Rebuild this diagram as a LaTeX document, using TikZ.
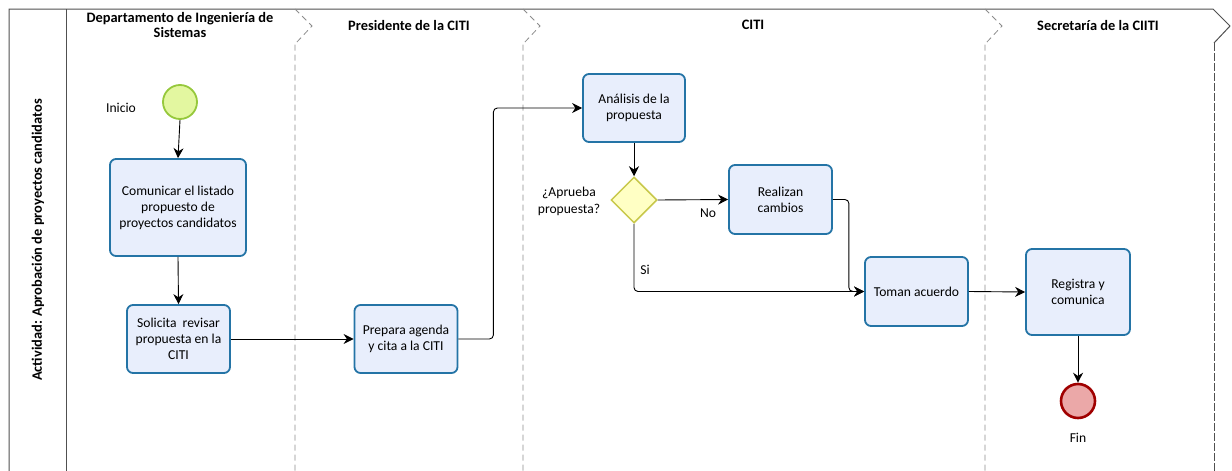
\documentclass[tikz,border=0pt]{standalone}
\usepackage{fontspec}
\setmainfont{Carlito}
\usetikzlibrary{arrows.meta,shapes.geometric}
\definecolor{boxfill}{HTML}{E8EEFC}
\definecolor{boxdraw}{HTML}{2474A6}
\definecolor{startfill}{HTML}{E3F7A0}
\definecolor{startdraw}{HTML}{96C83C}
\definecolor{endfill}{HTML}{EBA8A8}
\definecolor{enddraw}{HTML}{A00000}
\definecolor{gwfill}{HTML}{FFFFC4}
\definecolor{gwdraw}{HTML}{C8C84B}
\definecolor{lanegray}{HTML}{8C8C8C}
\definecolor{framegray}{HTML}{505050}
\tikzset{
  task/.style={draw=boxdraw, fill=boxfill, line width=1.8pt, rounded corners=6pt,
    align=center, font=\fontsize{13.6}{16}\selectfont, inner sep=2pt},
  startev/.style={circle, draw=startdraw, fill=startfill, line width=1.8pt, minimum size=34pt, inner sep=0pt},
  endev/.style={circle, draw=enddraw, fill=endfill, line width=2.6pt, minimum size=34pt, inner sep=0pt},
  gateway/.style={diamond, draw=gwdraw, fill=gwfill, line width=1.5pt, minimum width=46pt, minimum height=46pt, inner sep=0pt},
  flow/.style={draw=black, line width=0.9pt, rounded corners=4pt, -{Stealth[length=10pt,width=10pt]}},
  lbl/.style={font=\fontsize{13.6}{17}\selectfont, align=center},
  lanetitle/.style={font=\bfseries\fontsize{14.4}{15.5}\selectfont, align=center},
  laneline/.style={draw=lanegray, line width=0.8pt, dash pattern=on 6pt off 4pt},
  frameline/.style={draw=framegray, line width=1pt}
}
\begin{document}
\begin{tikzpicture}[x=1pt,y=-1pt]
\useasboundingbox (0,0) rectangle (1232,471);
% frame
\draw[frameline] (9,471) -- (9,9) -- (1213,9) -- (1230,26) -- (1214,43);
\draw[frameline, dash pattern=on 8pt off 2pt] (1214,43) -- (1214,471);
\draw[frameline] (66,9) -- (66,471);
% lane separators
\foreach \lx in {295,523,985}{
  \draw[laneline] (\lx,9) -- (\lx+17,26) -- (\lx+1,43) -- (\lx,43) -- (\lx,471);
}
% titles
\node[lanetitle, rotate=90] (acttitle) at (38,240) {Actividad: Aprobación de proyectos candidatos};
\node[lanetitle] (t1) at (180,25) {Departamento de Ingeniería de\\Sistemas};
\node[lanetitle] (t2) at (409,25) {Presidente de la CITI};
\node[lanetitle] (t3) at (753,25) {CITI};
\node[lanetitle] (t4) at (1098,25) {Secretaría de la CIITI};
% nodes
\node[startev] (ini) at (180,102) {};
\node[lbl, anchor=center] (inilbl) at (121,108) {Inicio};
\node[task, minimum width=136pt, minimum height=97pt] (com) at (178,207.5) {Comunicar el listado\\propuesto de\\proyectos candidatos};
\node[task, minimum width=103pt, minimum height=68pt] (sol) at (178.5,339) {Solicita\ \ revisar\\propuesta en la\\CITI};
\node[task, minimum width=103pt, minimum height=68pt] (prep) at (406,339) {Prepara agenda\\y cita a la CITI};
\node[task, minimum width=102pt, minimum height=68pt] (anal) at (634,108) {Análisis de la\\propuesta};
\node[gateway] (gw) at (634,200) {};
\node[lbl] (gwlbl) at (569,201) {¿Aprueba\\propuesta?};
\node[task, minimum width=103pt, minimum height=69pt] (real) at (780.5,199.5) {Realizan\\cambios};
\node[task, minimum width=103pt, minimum height=69pt] (tom) at (916.5,291.5) {Toman acuerdo};
\node[task, minimum width=104pt, minimum height=86pt] (reg) at (1078,292) {Registra y\\comunica};
\node[endev] (fin) at (1078,401) {};
\node[lbl] (finlbl) at (1078,438) {Fin};
\node[lbl] (nolbl) at (708,213) {No};
\node[lbl] (silbl) at (645,270) {Si};
% flows
\draw[flow] (ini.south) -- (com.north);
\draw[flow] (com.south) -- (sol.north);
\draw[flow] (sol.east) -- (prep.west);
\draw[flow] (prep.east) -- ++(35,0) |- (anal.west);
\draw[flow] (anal.south) -- (gw.north);
\draw[flow] (gw.east) -- (real.west);
\draw[flow] (gw.south) |- (tom.west);
\draw[flow] (real.east) -- ++(16,0) |- (tom.west);
\draw[flow] (tom.east) -- (reg.west);
\draw[flow] (reg.south) -- (fin.north);
\end{tikzpicture}
\end{document}
